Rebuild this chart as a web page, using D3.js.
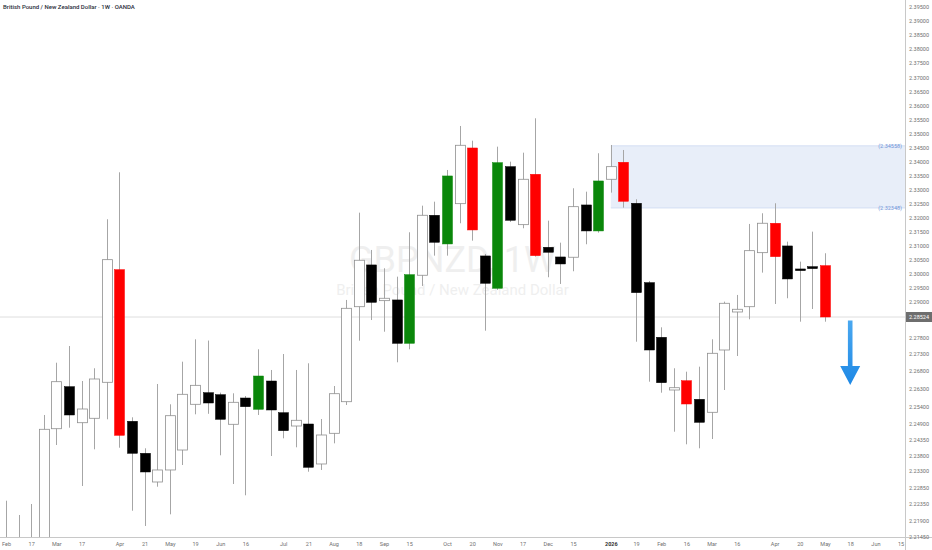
<!DOCTYPE html>
<html><head><meta charset="utf-8">
<script src="https://cdn.jsdelivr.net/npm/d3@7"></script>
<style>html,body{margin:0;padding:0;background:#fff;overflow:hidden}svg{display:block}</style>
</head><body><svg id="c" width="932" height="550"></svg>
<script>
// ---------------- DATA ----------------
const title = "British Pound / New Zealand Dollar · 1W · OANDA";
const symbolText = "GBPNZD, 1W";
const symbolSub = "British Pound / New Zealand Dollar";
const firstWeek = "2025-02-03";   // weekly bars, one per Monday
const opens  = [2.2080,2.2060,2.2040,2.2070,2.24738,2.26364,2.24938,2.25068,2.26486,2.30151,2.24980,2.23893,2.23009,2.23334,2.24006,2.25535,2.26115,2.26015,2.24890,2.25850,2.25332,2.26522,2.25232,2.24831,2.24900,2.23534,2.24580,2.25665,2.28851,2.30319,2.29048,2.29073,2.27634,2.29952,2.32087,2.31066,2.32500,2.34482,2.30639,2.29489,2.33817,2.31753,2.33546,2.30948,2.30603,2.30593,2.32454,2.31529,2.33368,2.33973,2.32514,2.29689,2.27824,2.26250,2.26530,2.25785,2.25244,2.27425,2.28683,2.28851,2.30756,2.31803,2.30995,2.30176,2.30258,2.30294];
const highs  = [2.22453,2.22059,2.22350,2.25165,2.27044,2.27550,2.26522,2.26880,2.31945,2.33617,2.25097,2.24065,2.26439,2.25535,2.27074,2.27759,2.27720,2.26120,2.26085,2.25950,2.27447,2.26830,2.27300,2.26830,2.27027,2.25047,2.26383,2.29073,2.32180,2.30852,2.30201,2.29902,2.31482,2.32429,2.32571,2.33699,2.35265,2.34742,2.30710,2.34529,2.33995,2.34315,2.35539,2.31895,2.31112,2.33048,2.32927,2.34294,2.34589,2.34411,2.32657,2.29749,2.28169,2.26880,2.26781,2.26927,2.27759,2.29013,2.29251,2.31778,2.32158,2.32514,2.31148,2.30436,2.31504,2.30735];
const lows   = [2.2000,2.1990,2.2000,2.2030,2.24178,2.24773,2.22903,2.24030,2.25038,2.24085,2.22172,2.21760,2.22884,2.22077,2.23500,2.25185,2.25200,2.23824,2.22956,2.22622,2.25165,2.23800,2.24408,2.24099,2.23281,2.23334,2.24236,2.25500,2.27716,2.28420,2.28017,2.27056,2.27447,2.29571,2.30650,2.30650,2.31803,2.31183,2.28052,2.29429,2.31849,2.31625,2.30614,2.29881,2.29642,2.30094,2.31055,2.31468,2.32892,2.32358,2.27684,2.26503,2.26115,2.24635,2.24202,2.24065,2.24384,2.26250,2.27241,2.28445,2.30045,2.28937,2.29133,2.28362,2.28778,2.28362];
const closes = [2.2060,2.2040,2.2070,2.24718,2.26503,2.25165,2.25341,2.26578,2.30507,2.24511,2.23893,2.23274,2.23334,2.25144,2.26035,2.26402,2.25600,2.25038,2.25635,2.25415,2.26661,2.25312,2.24670,2.25009,2.23424,2.24522,2.26065,2.28800,2.30486,2.28990,2.29133,2.27634,2.29973,2.32087,2.31126,2.33486,2.34578,2.31564,2.29667,2.33959,2.31909,2.33368,2.30650,2.30771,2.30354,2.32393,2.31529,2.33308,2.33817,2.32585,2.29333,2.27425,2.26475,2.26336,2.25550,2.24950,2.27322,2.28959,2.28769,2.30827,2.31803,2.30614,2.29820,2.30116,2.30187,2.28524];
// body paint: w = up (hollow), b = down, r = red highlight, g = green highlight
const paints = "bbwwwbwwwrbbwwwwbbwbgbbwbwwwwbwbgwbgwrbgbwrbbwbgwrbbbwrbwwwwwrbbbr".split("");
const lastPrice = 2.28524;
const zoneStart = "2026-01-05", zoneTop = 2.34558, zoneBottom = 2.32348;
const arrowDate = "2026-05-18", arrowFrom = 2.2840, arrowTo = 2.2641;
const priceTicks = [2.395,2.390,2.385,2.380,2.375,2.370,2.365,2.360,2.355,2.350,2.345,2.340,2.335,2.330,2.325,2.320,2.315,2.310,2.305,2.300,2.295,2.290,2.278,2.273,2.268,2.263,2.254,2.249,2.2435,2.238,2.233,2.2285,2.2235,2.219,2.2145];
const timeTicks = ["2025-02-03","2025-02-17","2025-03-03","2025-03-17","2025-04-07","2025-04-21","2025-05-05","2025-05-19","2025-06-02","2025-06-16","2025-07-07","2025-07-21","2025-08-04","2025-08-18","2025-09-01","2025-09-15","2025-10-06","2025-10-20","2025-11-03","2025-11-17","2025-12-01","2025-12-15","2026-01-05","2026-01-19","2026-02-02","2026-02-16","2026-03-02","2026-03-16","2026-04-06","2026-04-20","2026-05-04","2026-05-18","2026-06-01","2026-06-15"];
const timeLabels = ["Feb","17","Mar","17","Apr","21","May","19","Jun","16","Jul","21","Aug","18","Sep","15","Oct","20","Nov","17","Dec","15","2026","19","Feb","16","Mar","16","Apr","20","May","18","Jun","15"];

// ---------------- CHART ----------------
const W = 932, H = 550, paneR = 905, paneB = 537.5;
const svg = d3.select("#c");
const parse = d3.utcParse("%Y-%m-%d");
const t0 = parse(firstWeek);
const dates = opens.map((_, i) => d3.utcDay.offset(t0, 7 * i));
const x = d3.scaleUtc().domain([t0, dates[dates.length - 1]]).range([6, 825]);
// price scale of the reference axis (piecewise, anchored on its printed ticks)
const y = d3.scaleLinear()
  .domain([2.395, 2.29, lastPrice, 2.278, 2.273, 2.268, 2.263, 2.254, 2.249, 2.2435, 2.238, 2.233, 2.2285, 2.2235, 2.219, 2.2145])
  .range([7, 302, 317, 338, 354, 371, 389, 407, 424, 440, 456, 471, 488, 504, 521, 537]);

const font = "Roboto, 'Noto Sans', Arial, sans-serif";
svg.append("rect").attr("width", W).attr("height", H).attr("fill", "#fff");
const defs = svg.append("defs");
defs.append("clipPath").attr("id", "pane").append("rect").attr("x", 0).attr("y", 0).attr("width", paneR).attr("height", paneB);
const grad = defs.append("linearGradient").attr("id", "arr").attr("x1", 0).attr("y1", 0).attr("x2", 0).attr("y2", 1);
grad.append("stop").attr("offset", "0%").attr("stop-color", "#4aa8f0");
grad.append("stop").attr("offset", "100%").attr("stop-color", "#1e88e5");

// watermark
const cx = paneR / 2;
svg.append("text").attr("x", cx).attr("y", 272).attr("text-anchor", "middle")
  .attr("font-family", font).attr("font-size", 36).attr("fill", "#efefef").text(symbolText);
svg.append("text").attr("x", cx).attr("y", 295).attr("text-anchor", "middle")
  .attr("font-family", font).attr("font-size", 15).attr("fill", "#efefef").text(symbolSub);

const pane = svg.append("g").attr("clip-path", "url(#pane)");

// zone
const zx = x(parse(zoneStart));
pane.append("rect").attr("x", zx).attr("y", y(zoneTop)).attr("width", paneR - zx)
  .attr("height", y(zoneBottom) - y(zoneTop)).attr("fill", "#e8eef9");
[zoneTop, zoneBottom].forEach(v => {
  pane.append("line").attr("x1", zx).attr("x2", paneR).attr("y1", y(v)).attr("y2", y(v))
    .attr("stroke", "#d3def3").attr("stroke-width", 1);
  pane.append("text").attr("x", paneR - 3).attr("y", y(v) + 2).attr("text-anchor", "end")
    .attr("font-family", font).attr("font-size", 5.5).attr("fill", "#6f93d8").text("(" + v.toFixed(5) + ")");
});

// last price line
pane.append("line").attr("x1", 0).attr("x2", paneR).attr("y1", y(lastPrice)).attr("y2", y(lastPrice))
  .attr("stroke", "#d6d6d6").attr("stroke-width", 0.8);

// candles
const bw = 10;
const fills = {w: "#ffffff", b: "#000000", r: "#ff0000", g: "#0a870a"};
const strokes = {w: "#8f8f8f", b: "#000000", r: "#ff0000", g: "#0a870a"};
const cg = pane.append("g");
opens.forEach((o, i) => {
  const cxp = Math.round(x(dates[i])) + 0.5;
  cg.append("line").attr("x1", cxp).attr("x2", cxp).attr("y1", y(highs[i])).attr("y2", y(lows[i]))
    .attr("stroke", "#a6a6a6").attr("stroke-width", 1);
  const top = y(Math.max(o, closes[i])), bot = y(Math.min(o, closes[i]));
  const p = paints[i];
  cg.append("rect").attr("x", cxp - bw / 2).attr("y", top).attr("width", bw)
    .attr("height", Math.max(1.5, bot - top))
    .attr("fill", fills[p]).attr("stroke", strokes[p]).attr("stroke-width", p === "w" ? 0.8 : 0.5);
});

// arrow
const ax = x(parse(arrowDate)), ay0 = y(arrowFrom), ay1 = y(arrowTo), head = 19, hw = 10, sw = 2.3;
svg.append("path").attr("fill", "url(#arr)")
  .attr("d", `M${ax - sw},${ay0} L${ax + sw},${ay0} L${ax + sw},${ay1 - head} L${ax + hw},${ay1 - head} L${ax},${ay1} L${ax - hw},${ay1 - head} L${ax - sw},${ay1 - head} Z`);

// axes lines
svg.append("line").attr("x1", 0).attr("x2", W).attr("y1", paneB).attr("y2", paneB).attr("stroke", "#c8c8c8").attr("stroke-width", 1);
svg.append("line").attr("x1", paneR + 0.5).attr("x2", paneR + 0.5).attr("y1", 0).attr("y2", H).attr("stroke", "#c8c8c8").attr("stroke-width", 1);

// y axis
const yAxis = d3.axisRight(y).tickValues(priceTicks).tickSize(0).tickPadding(4).tickFormat(d => d.toFixed(5));
const yg = svg.append("g").attr("transform", `translate(${paneR},0)`).call(yAxis);
yg.select(".domain").remove();
yg.selectAll("text").attr("font-family", font).attr("font-size", 5.5).attr("fill", "#707070");

// last price label
const lp = svg.append("g").attr("transform", `translate(${paneR + 1},${y(lastPrice)})`);
lp.append("rect").attr("x", 0).attr("y", -5).attr("width", W - paneR - 1).attr("height", 10).attr("fill", "#6e6e6e");
lp.append("text").attr("x", 3).attr("y", 2).attr("font-family", font).attr("font-size", 5.5).attr("fill", "#fff").text(lastPrice.toFixed(5));

// x axis
const xAxis = d3.axisBottom(x).tickValues(timeTicks.map(parse)).tickSize(0).tickPadding(5)
  .tickFormat((d, i) => timeLabels[i]);
const xg = svg.append("g").attr("transform", `translate(0,${paneB})`).call(xAxis);
xg.select(".domain").remove();
xg.selectAll("text").attr("font-family", font).attr("font-size", 5.5).attr("fill", "#707070")
  .attr("font-weight", (d, i) => timeLabels[i] === "2026" ? "bold" : null)
  .attr("fill", (d, i) => timeLabels[i] === "2026" ? "#333" : "#707070");

// title
svg.append("text").attr("x", 3).attr("y", 9).attr("font-family", font).attr("font-size", 6)
  .attr("font-weight", 500).attr("fill", "#2a2e39").text(title);
</script></body></html>
